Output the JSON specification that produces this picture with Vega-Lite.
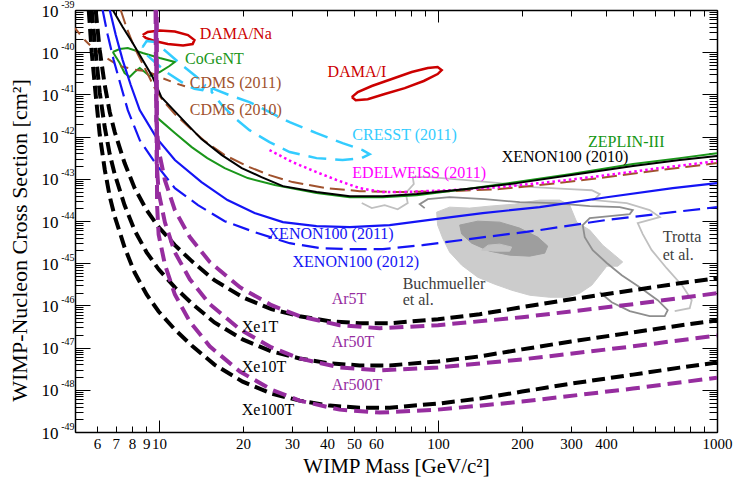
{
"$schema": "https://vega.github.io/schema/vega-lite/v6.json",
"autosize": "none",
"width": 642, "height": 422,
"padding": {"left": 75, "top": 10, "right": 30, "bottom": 48},
"background": "white",
"config": {
  "view": {"stroke": null},
  "axis": {"grid": false, "domainColor": "#000000", "domainWidth": 1.5, "tickColor": "#000000", "tickWidth": 1, "labelFont": "Liberation Serif", "labelColor": "#000000", "titleFont": "Liberation Serif", "titleFontWeight": "normal", "titleColor": "#000000", "labelOverlap": false, "labelFlush": false, "zindex": 1}
},
"datasets": {
  "dummy": [{"m": 100, "s": 1e-44}],
  "buch95": [{"m":98.9,"s":1.62e-44},{"m":110.1,"s":2.13e-44},{"m":129.9,"s":2.02e-44},{"m":153.2,"s":2.25e-44},{"m":188.3,"s":2.51e-44},{"m":231.5,"s":3.13e-44},{"m":273.1,"s":3.13e-44},{"m":296.5,"s":2.38e-44},{"m":314.2,"s":9.4e-45},{"m":349.9,"s":6.08e-45},{"m":389.4,"s":2.68e-45},{"m":429.9,"s":1.55e-45},{"m":459.3,"s":1.07e-45},{"m":440.8,"s":8.49e-46},{"m":402.5,"s":8.49e-46},{"m":379.9,"s":5.19e-46},{"m":355.7,"s":3.01e-46},{"m":322.1,"s":1.94e-46},{"m":289.3,"s":1.56e-46},{"m":251.4,"s":1.56e-46},{"m":213.2,"s":1.74e-46},{"m":183.7,"s":2.29e-46},{"m":159.7,"s":3.18e-46},{"m":138.8,"s":4.66e-46},{"m":121.6,"s":8.97e-46},{"m":110.1,"s":1.83e-45},{"m":103.9,"s":3.93e-45},{"m":99.7,"s":8.0e-45},{"m":98.9,"s":1.62e-44}],
  "buch68": [{"m":119.6,"s":8.0e-45},{"m":138.8,"s":9.9e-45},{"m":166.4,"s":9.4e-45},{"m":196.3,"s":6.78e-45},{"m":227.7,"s":4.15e-45},{"m":247.3,"s":2.54e-45},{"m":241.2,"s":1.73e-45},{"m":213.2,"s":1.47e-45},{"m":180.7,"s":1.55e-45},{"m":153.2,"s":1.93e-45},{"m":132.1,"s":2.98e-45},{"m":121.6,"s":4.9e-45},{"m":119.6,"s":8.0e-45}],
  "buchin": [{"m":143.4,"s":2.04e-45},{"m":151.2,"s":2.68e-45},{"m":166.4,"s":2.83e-45},{"m":183.7,"s":2.41e-45},{"m":180.7,"s":1.93e-45},{"m":159.7,"s":1.93e-45},{"m":143.4,"s":2.04e-45}],
  "trotta1": [{"m":89.6,"s":2.02e-44},{"m":86.0,"s":2.51e-44},{"m":91.9,"s":3.3e-44},{"m":110.1,"s":3.66e-44},{"m":147.1,"s":3.3e-44},{"m":196.3,"s":2.8e-44},{"m":262,"s":2.66e-44},{"m":349.9,"s":2.25e-44},{"m":448.1,"s":2.13e-44},{"m":499,"s":1.81e-44},{"m":486.6,"s":1.46e-44},{"m":412.6,"s":1.3e-44},{"m":349.9,"s":1.17e-44},{"m":330.2,"s":8.0e-45},{"m":335.7,"s":4.15e-45},{"m":358.6,"s":2.04e-45},{"m":402.5,"s":1.01e-45},{"m":455.6,"s":5.19e-46},{"m":528.5,"s":2.7e-46},{"m":613.2,"s":1.33e-46},{"m":665.8,"s":7.7e-47},{"m":649.5,"s":5.54e-47},{"m":573.9,"s":5.54e-47},{"m":486.6,"s":7.3e-47},{"m":419.4,"s":1.19e-46},{"m":379.9,"s":2.05e-46}],
  "trotta2": [{"m":53.3,"s":2.66e-44},{"m":57.9,"s":2.02e-44},{"m":64.4,"s":2.38e-44},{"m":71.7,"s":1.9e-44},{"m":77.9,"s":2.66e-44},{"m":76.6,"s":4.58e-44},{"m":81.9,"s":7.5e-44},{"m":81.2,"s":1.1e-43},{"m":93.4,"s":1.1e-43},{"m":126.7,"s":9.3e-44},{"m":166.4,"s":7.9e-44},{"m":218.5,"s":6.35e-44},{"m":296.5,"s":5.7e-44},{"m":355.7,"s":5.35e-44},{"m":379.9,"s":4.34e-44},{"m":361.5,"s":3.13e-44},{"m":474.8,"s":2.66e-44},{"m":573.9,"s":1.81e-44},{"m":623.2,"s":1.24e-44},{"m":519.9,"s":8.9e-45},{"m":541.8,"s":4.9e-45},{"m":583.4,"s":2.04e-45},{"m":660,"s":7.61e-46},{"m":753.6,"s":2.85e-46},{"m":811.8,"s":1.33e-46},{"m":798.4,"s":8.6e-47},{"m":705.4,"s":7.3e-47}],
  "dama_na": [{"m":8.74,"s":2.55e-40},{"m":9.11,"s":3.01e-40},{"m":10.06,"s":3.26e-40},{"m":11.4,"s":3.09e-40},{"m":12.7,"s":2.55e-40},{"m":13.4,"s":1.94e-40},{"m":13.2,"s":1.56e-40},{"m":12.2,"s":1.44e-40},{"m":10.75,"s":1.56e-40},{"m":9.65,"s":1.84e-40},{"m":8.96,"s":2.17e-40},{"m":8.74,"s":2.55e-40}],
  "dama_i": [{"m":49.1,"s":8.63e-42},{"m":51.6,"s":1.14e-41},{"m":57.9,"s":1.58e-41},{"m":68.3,"s":2.32e-41},{"m":80.5,"s":3.39e-41},{"m":91.9,"s":4.22e-41},{"m":99.7,"s":4.46e-41},{"m":103.1,"s":3.78e-41},{"m":99.7,"s":3.04e-41},{"m":88.9,"s":2.08e-41},{"m":76.0,"s":1.41e-41},{"m":64.4,"s":1.02e-41},{"m":56.0,"s":7.7e-42},{"m":50.7,"s":7.3e-42},{"m":49.1,"s":8.63e-42}],
  "cogent": [{"m":6.83,"s":1.01e-40},{"m":7.23,"s":1.19e-40},{"m":7.73,"s":1.26e-40},{"m":8.74,"s":9.6e-41},{"m":10.06,"s":7.3e-41},{"m":11.4,"s":5.85e-41},{"m":10.9,"s":4.71e-41},{"m":10.06,"s":3.39e-41},{"m":9.26,"s":2.73e-41},{"m":8.89,"s":3.39e-41},{"m":8.53,"s":4.22e-41},{"m":8.18,"s":3.39e-41},{"m":7.85,"s":2.58e-41},{"m":7.53,"s":3.21e-41},{"m":7.23,"s":5.54e-41},{"m":6.83,"s":1.01e-40}],
  "cresst2": [{"m":8.74,"s":1.33e-40},{"m":9.03,"s":1.84e-40},{"m":9.65,"s":1.74e-40},{"m":10.66,"s":1.01e-40},{"m":12.2,"s":4.71e-41},{"m":13.65,"s":2.58e-41},{"m":14.6,"s":1.67e-41},{"m":14.3,"s":1.27e-41},{"m":13.4,"s":1.35e-41},{"m":12.2,"s":1.86e-41},{"m":10.75,"s":3.21e-41},{"m":9.65,"s":5.85e-41},{"m":8.96,"s":9.1e-41},{"m":8.74,"s":1.33e-40}],
  "cresst1": [{"m":15.45,"s":1.41e-41},{"m":17.9,"s":9.6e-42},{"m":21.1,"s":6.57e-42},{"m":24.9,"s":3.8e-42},{"m":29.4,"s":2.2e-42},{"m":36.7,"s":1.21e-42},{"m":45.5,"s":7.0e-43},{"m":53.7,"s":4.79e-43},{"m":56.9,"s":3.84e-43},{"m":53.3,"s":3.09e-43},{"m":45.5,"s":2.78e-43},{"m":36.7,"s":3.09e-43},{"m":29.4,"s":4.3e-43},{"m":24.9,"s":7.4e-43},{"m":21.1,"s":1.42e-42},{"m":18.7,"s":2.74e-42},{"m":16.8,"s":5.6e-42},{"m":15.45,"s":1.14e-41},{"m":15.45,"s":1.41e-41}],
  "cdms11": [{"m":5.0,"s":3.74e-40},{"m":5.33,"s":2.17e-40},{"m":5.74,"s":1.33e-40},{"m":6.39,"s":7.7e-41},{"m":7.23,"s":4.71e-41},{"m":8.32,"s":3.78e-41},{"m":9.03,"s":3.58e-41},{"m":10.06,"s":2.58e-41},{"m":11.4,"s":1.86e-41},{"m":12.6,"s":1.5e-41}],
  "cdms10": [{"m":7.29,"s":1e-39},{"m":7.66,"s":3.74e-40},{"m":8.18,"s":1.26e-40},{"m":8.89,"s":4.22e-41},{"m":9.65,"s":1.41e-41},{"m":10.3,"s":7.3e-42},{"m":11.4,"s":3.41e-42},{"m":12.9,"s":1.59e-42},{"m":14.6,"s":7.8e-43},{"m":17.2,"s":3.64e-43},{"m":21.1,"s":1.89e-43},{"m":24.9,"s":1.22e-43},{"m":30.1,"s":8.35e-44},{"m":39.9,"s":6.0e-44},{"m":52.4,"s":5.1e-44},{"m":72.9,"s":4.84e-44},{"m":110,"s":5.1e-44},{"m":166,"s":5.7e-44},{"m":251,"s":7.5e-44},{"m":380,"s":1.04e-43},{"m":623,"s":1.6e-43},{"m":1000,"s":2.36e-43}],
  "edelweiss": [{"m":24.9,"s":4.79e-43},{"m":30.1,"s":2.48e-43},{"m":36.7,"s":1.44e-43},{"m":43.4,"s":9.3e-44},{"m":52.4,"s":6.0e-44},{"m":63.4,"s":4.84e-44},{"m":72.9,"s":4.84e-44},{"m":110,"s":5.35e-44},{"m":166,"s":6.35e-44},{"m":251,"s":8.35e-44},{"m":380,"s":1.16e-43},{"m":623,"s":1.79e-43},{"m":1000,"s":2.62e-43}],
  "zeplin": [{"m":9.89,"s":2.74e-42},{"m":11.4,"s":1.21e-42},{"m":13.1,"s":5.63e-43},{"m":14.9,"s":3.09e-43},{"m":17.2,"s":1.79e-43},{"m":20.8,"s":1.04e-43},{"m":26.0,"s":7.1e-44},{"m":36.7,"s":4.58e-44},{"m":48.3,"s":3.66e-44},{"m":63.4,"s":3.66e-44},{"m":83.9,"s":4.1e-44},{"m":126.7,"s":5.7e-44},{"m":191.5,"s":8.35e-44},{"m":296.5,"s":1.29e-43},{"m":500,"s":2.23e-43},{"m":735,"s":3.09e-43},{"m":1000,"s":4.06e-43}],
  "xe2010": [{"m":6.83,"s":1e-39},{"m":7.41,"s":3.95e-40},{"m":8.05,"s":1.65e-40},{"m":8.74,"s":6.5e-41},{"m":9.49,"s":2.58e-41},{"m":10.2,"s":8.63e-42},{"m":12.4,"s":2.2e-42},{"m":14.2,"s":8.73e-43},{"m":16.8,"s":3.64e-43},{"m":19.8,"s":1.79e-43},{"m":23.3,"s":1.1e-43},{"m":27.8,"s":6.7e-44},{"m":36.7,"s":4.84e-44},{"m":48.3,"s":3.88e-44},{"m":63.4,"s":3.88e-44},{"m":83.9,"s":4.34e-44},{"m":126.7,"s":5.7e-44},{"m":191.5,"s":7.9e-44},{"m":296.5,"s":1.22e-43},{"m":500,"s":2.0e-43},{"m":735,"s":2.78e-43},{"m":1000,"s":3.45e-43}],
  "xe2011": [{"m":6.66,"s":1e-39},{"m":7.0,"s":2.55e-40},{"m":7.41,"s":6.5e-41},{"m":7.92,"s":1.67e-41},{"m":8.53,"s":4.24e-42},{"m":9.81,"s":9.2e-43},{"m":11.4,"s":2.78e-43},{"m":14.2,"s":8.35e-44},{"m":17.6,"s":3.13e-44},{"m":22.0,"s":1.54e-44},{"m":27.8,"s":9.4e-45},{"m":36.7,"s":7.57e-45},{"m":48.3,"s":7.17e-45},{"m":67.1,"s":8.0e-45},{"m":93.4,"s":1.06e-44},{"m":144.6,"s":1.54e-44},{"m":231.5,"s":2.13e-44},{"m":402.5,"s":3.66e-44},{"m":694,"s":6.0e-44},{"m":1000,"s":7.9e-44}],
  "xe2012": [{"m":6.28,"s":1e-39},{"m":6.55,"s":2.55e-40},{"m":6.88,"s":6.5e-41},{"m":7.29,"s":1.67e-41},{"m":7.73,"s":4.24e-42},{"m":8.53,"s":8.26e-43},{"m":9.81,"s":2.11e-43},{"m":11.4,"s":6.0e-44},{"m":13.8,"s":2.38e-44},{"m":17.2,"s":9.9e-45},{"m":22.0,"s":5.45e-45},{"m":29.4,"s":2.98e-45},{"m":37.7,"s":2.28e-45},{"m":48.3,"s":2.16e-45},{"m":63.4,"s":2.16e-45},{"m":88.1,"s":2.68e-45},{"m":137.6,"s":3.93e-45},{"m":231.5,"s":6.08e-45},{"m":402.5,"s":1.06e-44},{"m":694,"s":1.62e-44},{"m":1000,"s":2.13e-44}],
  "xe1t": [{"m":5.93,"s":1e-39},{"m":6.13,"s":1.13e-40},{"m":6.39,"s":1.67e-41},{"m":6.66,"s":3.8e-42},{"m":6.94,"s":1.28e-42},{"m":7.53,"s":2.36e-43},{"m":8.18,"s":6.0e-44},{"m":9.03,"s":1.81e-44},{"m":9.97,"s":7.17e-45},{"m":11.4,"s":2.68e-45},{"m":13.1,"s":1.12e-45},{"m":15.8,"s":3.95e-46},{"m":19.95,"s":1.56e-46},{"m":25.3,"s":8.13e-47},{"m":31.9,"s":5.54e-47},{"m":40.9,"s":4.22e-47},{"m":52.4,"s":3.78e-47},{"m":67.1,"s":3.78e-47},{"m":100,"s":4.71e-47},{"m":141,"s":6.18e-47},{"m":200,"s":9.07e-47},{"m":300,"s":1.4e-46},{"m":500,"s":2.29e-46},{"m":735,"s":3.35e-46},{"m":1000,"s":4.41e-46}],
  "xe10t": [{"m":5.74,"s":1e-39},{"m":5.93,"s":1e-40},{"m":6.13,"s":1.13e-41},{"m":6.39,"s":1.67e-42},{"m":6.66,"s":3.8e-43},{"m":6.94,"s":1.28e-43},{"m":7.53,"s":2.36e-44},{"m":8.18,"s":6.0e-45},{"m":9.03,"s":1.81e-45},{"m":9.97,"s":7.17e-46},{"m":11.4,"s":2.68e-46},{"m":13.1,"s":1.12e-46},{"m":15.8,"s":3.95e-47},{"m":19.95,"s":1.56e-47},{"m":25.3,"s":8.13e-48},{"m":31.9,"s":5.54e-48},{"m":40.9,"s":4.22e-48},{"m":52.4,"s":3.78e-48},{"m":67.1,"s":3.78e-48},{"m":100,"s":4.71e-48},{"m":141,"s":6.18e-48},{"m":200,"s":9.07e-48},{"m":300,"s":1.4e-47},{"m":500,"s":2.29e-47},{"m":735,"s":3.35e-47},{"m":1000,"s":4.41e-47}],
  "xe100t": [{"m":5.6,"s":1e-39},{"m":5.74,"s":1e-40},{"m":5.93,"s":1e-41},{"m":6.13,"s":1.13e-42},{"m":6.39,"s":1.67e-43},{"m":6.66,"s":3.8e-44},{"m":6.94,"s":1.28e-44},{"m":7.53,"s":2.36e-45},{"m":8.18,"s":6.0e-46},{"m":9.03,"s":1.81e-46},{"m":9.97,"s":7.17e-47},{"m":11.4,"s":2.68e-47},{"m":13.1,"s":1.12e-47},{"m":15.8,"s":3.95e-48},{"m":19.95,"s":1.56e-48},{"m":25.3,"s":8.13e-49},{"m":31.9,"s":5.54e-49},{"m":40.9,"s":4.22e-49},{"m":52.4,"s":3.78e-49},{"m":67.1,"s":3.78e-49},{"m":100,"s":4.71e-49},{"m":141,"s":6.18e-49},{"m":200,"s":9.07e-49},{"m":300,"s":1.4e-48},{"m":500,"s":2.29e-48},{"m":735,"s":3.35e-48},{"m":1000,"s":4.41e-48}],
  "ar5t": [{"m":9.72,"s":1e-39},{"m":9.78,"s":2.46e-42},{"m":9.97,"s":4.79e-43},{"m":10.5,"s":9.3e-44},{"m":11.4,"s":1.81e-44},{"m":12.9,"s":4.15e-45},{"m":15.2,"s":1.07e-45},{"m":19.5,"s":2.7e-46},{"m":25.3,"s":1.01e-46},{"m":31.9,"s":5.54e-47},{"m":44.4,"s":3.39e-47},{"m":61.8,"s":2.88e-47},{"m":100,"s":3.39e-47},{"m":200,"s":5.25e-47},{"m":500,"s":1.07e-46},{"m":1000,"s":1.94e-46}],
  "ar50t": [{"m":9.77,"s":1e-39},{"m":9.81,"s":2.46e-43},{"m":9.97,"s":4.79e-44},{"m":10.5,"s":9.3e-45},{"m":11.4,"s":1.81e-45},{"m":12.9,"s":4.15e-46},{"m":15.2,"s":1.07e-46},{"m":19.5,"s":2.7e-47},{"m":25.3,"s":1.01e-47},{"m":31.9,"s":5.54e-48},{"m":44.4,"s":3.39e-48},{"m":61.8,"s":2.88e-48},{"m":100,"s":3.39e-48},{"m":200,"s":5.25e-48},{"m":500,"s":1.07e-47},{"m":1000,"s":1.94e-47}],
  "ar500t": [{"m":9.82,"s":1e-39},{"m":9.84,"s":2.46e-44},{"m":9.97,"s":4.79e-45},{"m":10.5,"s":9.3e-46},{"m":11.4,"s":1.81e-46},{"m":12.9,"s":4.15e-47},{"m":15.2,"s":1.07e-47},{"m":19.5,"s":2.7e-48},{"m":25.3,"s":1.01e-48},{"m":31.9,"s":5.54e-49},{"m":44.4,"s":3.39e-49},{"m":61.8,"s":2.88e-49},{"m":100,"s":3.39e-49},{"m":200,"s":5.25e-49},{"m":500,"s":1.07e-48},{"m":1000,"s":1.94e-48}],
  "labels": [
    {"t":"DAMA/Na","g":"DAMA","m":14.0,"s":2.7e-40},
    {"t":"CoGeNT","g":"CoGeNT","m":12.4,"s":6.9e-41},
    {"t":"CDMS (2011)","g":"CDMS","m":12.9,"s":1.86e-41},
    {"t":"CDMS (2010)","g":"CDMS","m":12.9,"s":4.24e-42},
    {"t":"DAMA/I","g":"DAMA","m":40.2,"s":3.39e-41},
    {"t":"CRESST (2011)","g":"CRESST","m":49.3,"s":1.08e-42},
    {"t":"EDELWEISS (2011)","g":"EDELWEISS","m":49.3,"s":1.37e-43},
    {"t":"XENON100 (2010)","g":"XENON2010","m":169.2,"s":3.26e-43},
    {"t":"ZEPLIN-III","g":"ZEPLIN","m":345,"s":7.4e-43},
    {"t":"XENON100 (2011)","g":"XENON","m":24.5,"s":4.9e-45},
    {"t":"XENON100 (2012)","g":"XENON","m":30.1,"s":1.07e-45},
    {"t":"Buchmueller","g":"Fit","m":74.7,"s":3.18e-46},
    {"t":"et al.","g":"Fit","m":74.7,"s":1.33e-46},
    {"t":"Trotta","g":"Fit","m":638.9,"s":4.15e-45},
    {"t":"et al.","g":"Fit","m":638.9,"s":1.55e-45},
    {"t":"Ar5T","g":"Ar","m":41.6,"s":1.4e-46},
    {"t":"Ar50T","g":"Ar","m":41.6,"s":1.34e-47},
    {"t":"Ar500T","g":"Ar","m":41.6,"s":1.29e-48},
    {"t":"Xe1T","g":"Xe","m":19.8,"s":3.04e-47},
    {"t":"Xe10T","g":"Xe","m":19.8,"s":3.41e-48},
    {"t":"Xe100T","g":"Xe","m":19.8,"s":3.26e-49}
  ]
},
"encoding": {
  "x": {"field": "m", "type": "quantitative", "scale": {"type": "log", "domain": [5, 1000], "nice": false}, "axis": null},
  "y": {"field": "s", "type": "quantitative", "scale": {"type": "log", "domain": [1e-49, 1e-39], "nice": false}, "axis": null}
},
"layer": [
  {"data": {"name": "dummy"}, "mark": {"type": "point", "opacity": 0},
   "encoding": {
     "x": {"field": "m", "type": "quantitative", "scale": {"type": "log", "domain": [5, 1000], "nice": false},
       "axis": {"orient": "bottom", "values": [6,7,8,9,10,20,30,40,50,60,70,80,90,100,200,300,400,500,600,700,800,900,1000], "tickSize": -6, "labelPadding": 10, "labelFontSize": 15, "labelExpr": "indexof([6,7,8,9,10,20,30,40,50,60,100,200,300,400,1000], datum.value) >= 0 ? '' + datum.value : ''", "domain": true, "title": "WIMP Mass [GeV/c²]", "titleFontSize": 21, "titlePadding": 4}},
     "y": {"field": "s", "type": "quantitative", "scale": {"type": "log", "domain": [1e-49, 1e-39], "nice": false},
       "axis": {"orient": "left", "values": [1e-39,9e-40,8e-40,7e-40,6e-40,5e-40,4e-40,3e-40,2e-40,1e-40,9e-41,8e-41,7e-41,6e-41,5e-41,4e-41,3e-41,2e-41,1e-41,9e-42,8e-42,7e-42,6e-42,5e-42,4e-42,3e-42,2e-42,1e-42,9e-43,8e-43,7e-43,6e-43,5e-43,4e-43,3e-43,2e-43,1e-43,9e-44,8e-44,7e-44,6e-44,5e-44,4e-44,3e-44,2e-44,1e-44,9e-45,8e-45,7e-45,6e-45,5e-45,4e-45,3e-45,2e-45,1e-45,9e-46,8e-46,7e-46,6e-46,5e-46,4e-46,3e-46,2e-46,1e-46,9e-47,8e-47,7e-47,6e-47,5e-47,4e-47,3e-47,2e-47,1e-47,9e-48,8e-48,7e-48,6e-48,5e-48,4e-48,3e-48,2e-48,1e-48,9e-49,8e-49,7e-49,6e-49,5e-49,4e-49,3e-49,2e-49,1e-49], "tickSize": -8, "labelPadding": 25, "labelFontSize": 17, "labelOffset": 1, "labelExpr": "abs(log(datum.value)/LN10 - round(log(datum.value)/LN10)) < 0.001 ? '10' : ''", "domain": true, "title": "WIMP-Nucleon Cross Section [cm²]", "titleFontSize": 22, "titlePadding": 10, "titleY": 230}}
   }},
  {"data": {"name": "dummy"}, "mark": {"type": "point", "opacity": 0},
   "encoding": {
     "x": {"field": "m", "type": "quantitative", "scale": {"type": "log", "domain": [5, 1000], "nice": false},
       "axis": {"orient": "bottom", "values": [10,100,1000], "tickSize": -12, "labels": false, "domain": false, "title": null}},
     "y": {"field": "s", "type": "quantitative", "scale": {"type": "log", "domain": [1e-49, 1e-39], "nice": false},
       "axis": {"orient": "left", "values": [1e-39,1e-40,1e-41,1e-42,1e-43,1e-44,1e-45,1e-46,1e-47,1e-48,1e-49], "tickSize": -15, "labelPadding": 16, "labelFontSize": 10, "labelOffset": -6, "labelExpr": "'-' + round(-log(datum.value)/LN10)", "domain": false, "title": null}}
   }},
  {"data": {"name": "dummy"}, "mark": {"type": "point", "opacity": 0},
   "encoding": {
     "x": {"field": "m", "type": "quantitative", "scale": {"type": "log", "domain": [5, 1000], "nice": false},
       "axis": {"orient": "top", "values": [6,7,8,9,10,20,30,40,50,60,70,80,90,100,200,300,400,500,600,700,800,900,1000], "tickSize": -6, "labels": false, "domain": true, "title": null}},
     "y": {"field": "s", "type": "quantitative", "scale": {"type": "log", "domain": [1e-49, 1e-39], "nice": false},
       "axis": {"orient": "right", "values": [1e-39,9e-40,8e-40,7e-40,6e-40,5e-40,4e-40,3e-40,2e-40,1e-40,9e-41,8e-41,7e-41,6e-41,5e-41,4e-41,3e-41,2e-41,1e-41,9e-42,8e-42,7e-42,6e-42,5e-42,4e-42,3e-42,2e-42,1e-42,9e-43,8e-43,7e-43,6e-43,5e-43,4e-43,3e-43,2e-43,1e-43,9e-44,8e-44,7e-44,6e-44,5e-44,4e-44,3e-44,2e-44,1e-44,9e-45,8e-45,7e-45,6e-45,5e-45,4e-45,3e-45,2e-45,1e-45,9e-46,8e-46,7e-46,6e-46,5e-46,4e-46,3e-46,2e-46,1e-46,9e-47,8e-47,7e-47,6e-47,5e-47,4e-47,3e-47,2e-47,1e-47,9e-48,8e-48,7e-48,6e-48,5e-48,4e-48,3e-48,2e-48,1e-48,9e-49,8e-49,7e-49,6e-49,5e-49,4e-49,3e-49,2e-49,1e-49], "tickSize": -8, "labels": false, "domain": true, "title": null}}
   }},
  {"data": {"name": "dummy"}, "mark": {"type": "point", "opacity": 0},
   "encoding": {
     "x": {"field": "m", "type": "quantitative", "scale": {"type": "log", "domain": [5, 1000], "nice": false},
       "axis": {"orient": "top", "values": [10,100,1000], "tickSize": -12, "labels": false, "domain": false, "title": null}},
     "y": {"field": "s", "type": "quantitative", "scale": {"type": "log", "domain": [1e-49, 1e-39], "nice": false},
       "axis": {"orient": "right", "values": [1e-39,1e-40,1e-41,1e-42,1e-43,1e-44,1e-45,1e-46,1e-47,1e-48,1e-49], "tickSize": -15, "labels": false, "domain": false, "title": null}}
   }},
  {"data": {"name": "buch95"}, "mark": {"type": "line", "fill": "#cccccc", "stroke": "#cccccc", "strokeWidth": 1, "clip": true}, "encoding": {"order": {"value": null}}},
  {"data": {"name": "buch68"}, "mark": {"type": "line", "fill": "#9e9e9e", "stroke": "#9e9e9e", "strokeWidth": 1, "clip": true}, "encoding": {"order": {"value": null}}},
  {"data": {"name": "buchin"}, "mark": {"type": "line", "fill": "#c4c4c4", "stroke": "#c4c4c4", "strokeWidth": 1, "clip": true}, "encoding": {"order": {"value": null}}},
  {"data": {"name": "trotta2"}, "mark": {"type": "line", "color": "#c0c0c0", "strokeWidth": 1.8, "clip": true}, "encoding": {"order": {"value": null}}},
  {"data": {"name": "trotta1"}, "mark": {"type": "line", "color": "#8e8e8e", "strokeWidth": 1.8, "clip": true}, "encoding": {"order": {"value": null}}},
  {"data": {"name": "dama_na"}, "mark": {"type": "line", "color": "#cc0000", "strokeWidth": 2.5, "clip": true}, "encoding": {"order": {"value": null}}},
  {"data": {"name": "dama_i"}, "mark": {"type": "line", "color": "#cc0000", "strokeWidth": 2.5, "clip": true}, "encoding": {"order": {"value": null}}},
  {"data": {"name": "cogent"}, "mark": {"type": "line", "color": "#1a961a", "strokeWidth": 2, "clip": true}, "encoding": {"order": {"value": null}}},
  {"data": {"name": "cresst2"}, "mark": {"type": "line", "color": "#33ccff", "strokeWidth": 2.5, "strokeDash": [18, 9], "clip": true}, "encoding": {"order": {"value": null}}},
  {"data": {"name": "cresst1"}, "mark": {"type": "line", "color": "#33ccff", "strokeWidth": 2.5, "strokeDash": [18, 9], "clip": true}, "encoding": {"order": {"value": null}}},
  {"data": {"name": "cdms11"}, "mark": {"type": "line", "color": "#a0522d", "strokeWidth": 2, "strokeDash": [8, 7], "clip": true}, "encoding": {"order": {"value": null}}},
  {"data": {"name": "cdms10"}, "mark": {"type": "line", "color": "#a0522d", "strokeWidth": 2, "strokeDash": [15, 6], "clip": true}, "encoding": {"order": {"value": null}}},
  {"data": {"name": "edelweiss"}, "mark": {"type": "line", "color": "#ff00ff", "strokeWidth": 2.5, "strokeDash": [2.5, 3], "clip": true}, "encoding": {"order": {"value": null}}},
  {"data": {"name": "zeplin"}, "mark": {"type": "line", "color": "#1a961a", "strokeWidth": 2, "clip": true}, "encoding": {"order": {"value": null}}},
  {"data": {"name": "xe2010"}, "mark": {"type": "line", "color": "#000000", "strokeWidth": 2, "clip": true}, "encoding": {"order": {"value": null}}},
  {"data": {"name": "xe2011"}, "mark": {"type": "line", "color": "#1414f5", "strokeWidth": 2.2, "clip": true}, "encoding": {"order": {"value": null}}},
  {"data": {"name": "xe2012"}, "mark": {"type": "line", "color": "#1414f5", "strokeWidth": 2.2, "strokeDash": [17, 7], "clip": true}, "encoding": {"order": {"value": null}}},
  {"data": {"name": "xe1t"}, "mark": {"type": "line", "color": "#000000", "strokeWidth": 4, "strokeDash": [13, 6], "clip": true}, "encoding": {"order": {"value": null}}},
  {"data": {"name": "xe10t"}, "mark": {"type": "line", "color": "#000000", "strokeWidth": 4, "strokeDash": [13, 6], "clip": true}, "encoding": {"order": {"value": null}}},
  {"data": {"name": "xe100t"}, "mark": {"type": "line", "color": "#000000", "strokeWidth": 4, "strokeDash": [13, 6], "clip": true}, "encoding": {"order": {"value": null}}},
  {"data": {"name": "ar5t"}, "mark": {"type": "line", "color": "#962d9f", "strokeWidth": 4, "strokeDash": [14, 7], "clip": true}, "encoding": {"order": {"value": null}}},
  {"data": {"name": "ar50t"}, "mark": {"type": "line", "color": "#962d9f", "strokeWidth": 4, "strokeDash": [14, 7], "strokeDashOffset": 7, "clip": true}, "encoding": {"order": {"value": null}}},
  {"data": {"name": "ar500t"}, "mark": {"type": "line", "color": "#962d9f", "strokeWidth": 4, "strokeDash": [14, 7], "strokeDashOffset": 14, "clip": true}, "encoding": {"order": {"value": null}}},
  {"data": {"name": "labels"}, "mark": {"type": "text", "align": "left", "baseline": "middle", "font": "Liberation Serif", "fontSize": 16},
   "encoding": {"text": {"field": "t"},
     "color": {"field": "g", "type": "nominal", "legend": null,
       "scale": {"domain": ["DAMA","CoGeNT","CDMS","CRESST","EDELWEISS","XENON2010","ZEPLIN","XENON","Fit","Ar","Xe"],
                 "range": ["#cc0000","#1a961a","#a0522d","#33ccff","#ff00ff","#000000","#149614","#1414f5","#404040","#962d9f","#000000"]}}}}
],
"resolve": {"axis": {"x": "independent", "y": "independent"}}
}
